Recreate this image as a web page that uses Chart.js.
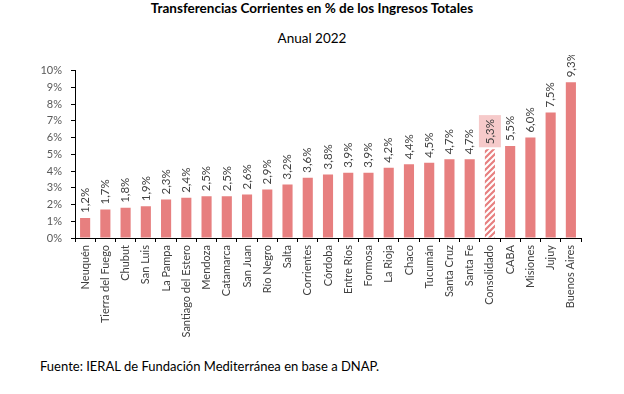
<!DOCTYPE html>
<html>
<head>
<meta charset="utf-8">
<script src="https://cdn.jsdelivr.net/npm/chart.js@4"></script>
<style>
  html, body { margin: 0; padding: 0; background: #fff; }
  #wrap { position: relative; width: 624px; height: 394px; overflow: hidden; font-family: Lato, 'Open Sans', sans-serif; color: #000; }
  #title { position: absolute; left: 0; top: 0; width: 624px; text-align: center; font-weight: bold; font-size: 13.5px; line-height: 16px; }
  #subtitle { position: absolute; left: 0; top: 30px; width: 624px; text-align: center; font-size: 13.5px; line-height: 16px; }
  #chartBox { position: absolute; left: 0; top: 55px; width: 624px; height: 300px; }
  #source { position: absolute; left: 40px; top: 358px; font-size: 13px; line-height: 16px; }
</style>
</head>
<body>
<div id="wrap">
  <div id="title">Transferencias Corrientes en % de los Ingresos Totales</div>
  <div id="subtitle">Anual 2022</div>
  <div id="chartBox"><canvas id="chart" width="624" height="300"></canvas></div>
  <div id="source">Fuente: IERAL de Fundación Mediterránea en base a DNAP.</div>
</div>
<script>
const provincias = ['Neuquén', 'Tierra del Fuego', 'Chubut', 'San Luis', 'La Pampa', 'Santiago del Estero',
  'Mendoza', 'Catamarca', 'San Juan', 'Río Negro', 'Salta', 'Corrientes', 'Córdoba', 'Entre Ríos',
  'Formosa', 'La Rioja', 'Chaco', 'Tucumán', 'Santa Cruz', 'Santa Fe', 'Consolidado', 'CABA',
  'Misiones', 'Jujuy', 'Buenos Aires'];
const transferencias = [1.2, 1.7, 1.8, 1.9, 2.3, 2.4, 2.5, 2.5, 2.6, 2.9, 3.2, 3.6, 3.8, 3.9,
  3.9, 4.2, 4.4, 4.5, 4.7, 4.7, 5.3, 5.5, 6.0, 7.5, 9.3];
const yTicks = [0, 1, 2, 3, 4, 5, 6, 7, 8, 9, 10];
const destacado = 'Consolidado';

const barColor = '#E77F7F';

// hatch for the consolidated bar
function makeHatch() {
    const size = 6;
    const c = document.createElement('canvas');
    c.width = size; c.height = size;
    const g = c.getContext('2d');
    g.fillStyle = '#fff';
    g.fillRect(0, 0, size, size);
    g.strokeStyle = barColor;
    g.lineWidth = 2.2;
    g.beginPath();
    g.moveTo(-1, size + 1); g.lineTo(size + 1, -1);
    g.moveTo(-2, 2); g.lineTo(2, -2);
    g.moveTo(size - 2, size + 2); g.lineTo(size + 2, size - 2);
    g.stroke();
    return g.createPattern(c, 'repeat');
}

const hatch = makeHatch();
const colors = provincias.map(p => p === destacado ? hatch : barColor);

const fmt = v => v.toFixed(1).replace('.', ',') + '%';

const labelPlugin = {
    id: 'vlabels',
    afterDatasetsDraw(chart) {
        const ctx = chart.ctx;
        const meta = chart.getDatasetMeta(0);
        ctx.save();
        ctx.font = '11.5px Lato, "Open Sans", sans-serif';
        meta.data.forEach((bar, i) => {
            const text = fmt(transferencias[i]);
            const w = ctx.measureText(text).width;
            if (provincias[i] === destacado) {
                ctx.fillStyle = '#F6CACA';
                ctx.fillRect(bar.x - 11, bar.y - w - 9, 22, w + 7);
            }
            ctx.save();
            ctx.translate(bar.x, bar.y - 5);
            ctx.rotate(-Math.PI / 2);
            ctx.fillStyle = '#404040';
            ctx.textAlign = 'left';
            ctx.textBaseline = 'middle';
            ctx.fillText(text, 0, 0);
            ctx.restore();
        });
        ctx.restore();
    }
};

new Chart(document.getElementById('chart'), {
    type: 'bar',
    data: {
        labels: provincias,
        datasets: [{
            data: transferencias,
            backgroundColor: colors,
            barPercentage: 1,
            categoryPercentage: 0.5
        }]
    },
    options: {
        responsive: false,
        animation: false,
        layout: { padding: { left: 0, right: 43, top: 13, bottom: 0 } },
        plugins: {
            legend: { display: false },
            tooltip: { enabled: false },
            title: { display: false }
        },
        scales: {
            x: {
                offset: true,
                grid: { display: true, drawOnChartArea: false, offset: true, tickLength: 4, color: '#000' },
                border: { color: '#000', width: 1 },
                ticks: {
                    minRotation: 90, maxRotation: 90, autoSkip: false, padding: 3,
                    color: '#404040', font: { family: 'Lato, "Open Sans", sans-serif', size: 11 }
                },
                afterFit(scale) { scale.height = 117; }
            },
            y: {
                min: 0, max: 10,
                afterBuildTicks(scale) { scale.ticks = yTicks.map(v => ({ value: v })); },
                grid: { display: true, drawOnChartArea: false, tickLength: 4, color: '#000' },
                border: { color: '#000', width: 1 },
                ticks: {
                    padding: 9, color: '#595959',
                    font: { family: 'Lato, "Open Sans", sans-serif', size: 11 },
                    callback: v => v + '%'
                },
                afterFit(scale) { scale.width = 75; }
            }
        }
    },
    plugins: [labelPlugin]
});
</script>
</body>
</html>
